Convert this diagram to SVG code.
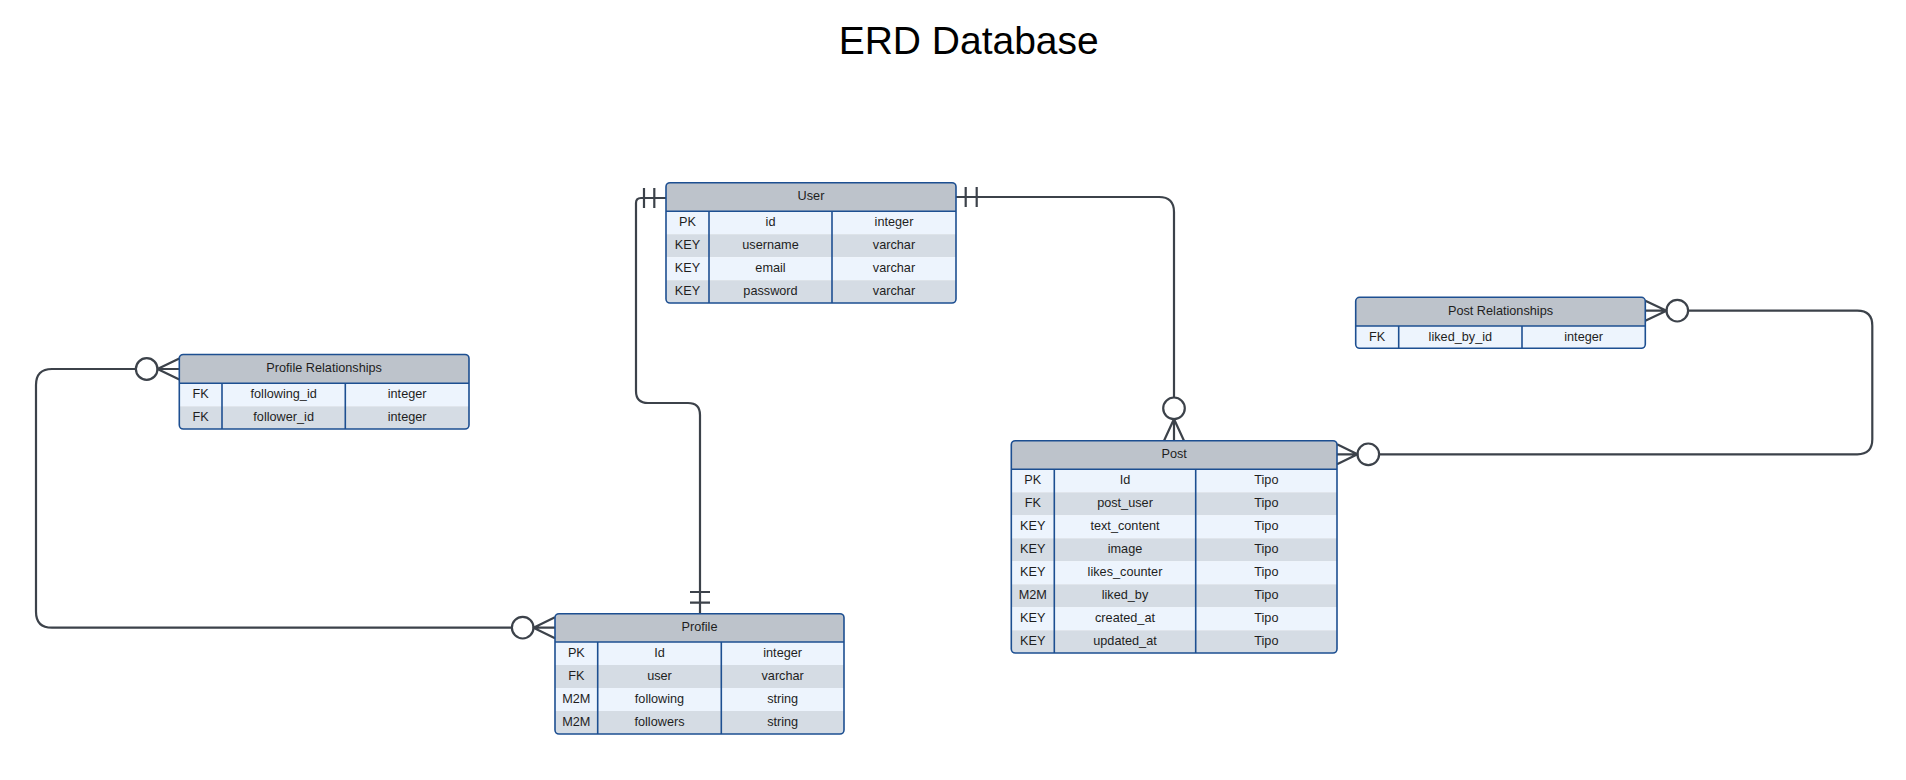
<svg xmlns="http://www.w3.org/2000/svg" width="1906" height="780" viewBox="0 0 1906 780">
<style>
text{font-family:"Liberation Sans",Arial,sans-serif;font-size:12.7px;fill:#1e1e1e;text-anchor:middle}
.title{font-size:39px;fill:#000}
.hd{fill:#BDC3CB}
.lt{fill:#EDF4FD}
.dk{fill:#D5DCE4}
.bd{fill:none;stroke:#1D4F91;stroke-width:1.6}
.sep{stroke:#1D4F91;stroke-width:1.6}
.ln{fill:none;stroke:#3C424A;stroke-width:2.2;stroke-linejoin:round}
.cir{fill:#fff;stroke:#3C424A;stroke-width:2.2}
</style>
<defs>
<clipPath id="cUser"><rect x="666" y="182.7" width="290" height="120.3" rx="4"/></clipPath>
<clipPath id="cProfRel"><rect x="179.3" y="354.5" width="289.7" height="74.5" rx="4"/></clipPath>
<clipPath id="cProfile"><rect x="555" y="613.7" width="289" height="120.3" rx="4"/></clipPath>
<clipPath id="cPost"><rect x="1011.3" y="440.7" width="325.7" height="212.3" rx="4"/></clipPath>
<clipPath id="cPostRel"><rect x="1355.7" y="297.3" width="289.6" height="51" rx="4"/></clipPath>
</defs>
<rect width="1906" height="780" fill="#fff"/>
<text class="title" x="968.7" y="54">ERD Database</text>

<g id="connectors">
<path class="ln" d="M666,198 H641 Q636,198 636,203 V391 Q636,403 648,403 H688 Q700,403 700,415 V613.7"/>
<path class="ln" d="M644,188 V208 M654.3,188 V208"/>
<path class="ln" d="M690,592 H710 M690,602.7 H710"/>
<path class="ln" d="M956,197 H1159 Q1174,197 1174,212 V397.5"/>
<path class="ln" d="M965.7,187 V207 M976.7,187 V207"/>
<circle class="cir" cx="1174" cy="408.3" r="10.8"/>
<path class="ln" d="M1164,440.7 L1174,419 L1184,440.7 M1174,419 V440.7"/>
<path class="ln" d="M135.9,369 H52 Q36,369 36,385 V611.7 Q36,627.7 52,627.7 H511.9"/>
<circle class="cir" cx="146.7" cy="369" r="10.8"/>
<path class="ln" d="M179.3,358.5 L157.5,369 L179.3,379.5 M157.5,369 H179.3"/>
<circle class="cir" cx="522.7" cy="627.7" r="10.8"/>
<path class="ln" d="M555,617.2 L533.5,627.7 L555,638.2 M533.5,627.7 H555"/>
<path class="ln" d="M1688.1,310.7 H1857.3 Q1872.3,310.7 1872.3,325.7 V439.3 Q1872.3,454.3 1857.3,454.3 H1379.1"/>
<circle class="cir" cx="1677.3" cy="310.7" r="10.8"/>
<path class="ln" d="M1645.3,300.7 L1666.5,310.7 L1645.3,320.7 M1666.5,310.7 H1645.3"/>
<circle class="cir" cx="1368.3" cy="454.3" r="10.8"/>
<path class="ln" d="M1337,444.3 L1357.5,454.3 L1337,464.3 M1357.5,454.3 H1337"/>
</g>

<g id="user">
<g clip-path="url(#cUser)">
<rect class="hd" x="666" y="182.7" width="290" height="28.5"/>
<rect class="lt" x="666" y="211.2" width="290" height="23"/>
<rect class="dk" x="666" y="234.2" width="290" height="23"/>
<rect class="lt" x="666" y="257.2" width="290" height="23"/>
<rect class="dk" x="666" y="280.2" width="290" height="23"/>
</g>
<line class="sep" x1="666" y1="211.2" x2="956" y2="211.2"/>
<line class="sep" x1="709" y1="211.2" x2="709" y2="303"/>
<line class="sep" x1="832" y1="211.2" x2="832" y2="303"/>
<rect class="bd" x="666" y="182.7" width="290" height="120.3" rx="4"/>
<text x="811" y="200.3">User</text>
<text x="687.5" y="226.2">PK</text><text x="770.5" y="226.2">id</text><text x="894" y="226.2">integer</text>
<text x="687.5" y="249.2">KEY</text><text x="770.5" y="249.2">username</text><text x="894" y="249.2">varchar</text>
<text x="687.5" y="272.2">KEY</text><text x="770.5" y="272.2">email</text><text x="894" y="272.2">varchar</text>
<text x="687.5" y="295.2">KEY</text><text x="770.5" y="295.2">password</text><text x="894" y="295.2">varchar</text>
</g>

<g id="profile-relationships">
<g clip-path="url(#cProfRel)">
<rect class="hd" x="179.3" y="354.5" width="289.7" height="28.8"/>
<rect class="lt" x="179.3" y="383.3" width="289.7" height="23"/>
<rect class="dk" x="179.3" y="406.3" width="289.7" height="23"/>
</g>
<line class="sep" x1="179.3" y1="383.3" x2="469" y2="383.3"/>
<line class="sep" x1="222" y1="383.3" x2="222" y2="429"/>
<line class="sep" x1="345.3" y1="383.3" x2="345.3" y2="429"/>
<rect class="bd" x="179.3" y="354.5" width="289.7" height="74.5" rx="4"/>
<text x="324.15" y="372.3">Profile Relationships</text>
<text x="200.65" y="398.3">FK</text><text x="283.65" y="398.3">following_id</text><text x="407.15" y="398.3">integer</text>
<text x="200.65" y="421.3">FK</text><text x="283.65" y="421.3">follower_id</text><text x="407.15" y="421.3">integer</text>
</g>

<g id="profile">
<g clip-path="url(#cProfile)">
<rect class="hd" x="555" y="613.7" width="289" height="28.3"/>
<rect class="lt" x="555" y="642" width="289" height="23"/>
<rect class="dk" x="555" y="665" width="289" height="23"/>
<rect class="lt" x="555" y="688" width="289" height="23"/>
<rect class="dk" x="555" y="711" width="289" height="23"/>
</g>
<line class="sep" x1="555" y1="642" x2="844" y2="642"/>
<line class="sep" x1="597.7" y1="642" x2="597.7" y2="734"/>
<line class="sep" x1="721.3" y1="642" x2="721.3" y2="734"/>
<rect class="bd" x="555" y="613.7" width="289" height="120.3" rx="4"/>
<text x="699.5" y="631.2">Profile</text>
<text x="576.35" y="657">PK</text><text x="659.5" y="657">Id</text><text x="782.65" y="657">integer</text>
<text x="576.35" y="680">FK</text><text x="659.5" y="680">user</text><text x="782.65" y="680">varchar</text>
<text x="576.35" y="703">M2M</text><text x="659.5" y="703">following</text><text x="782.65" y="703">string</text>
<text x="576.35" y="726">M2M</text><text x="659.5" y="726">followers</text><text x="782.65" y="726">string</text>
</g>

<g id="post">
<g clip-path="url(#cPost)">
<rect class="hd" x="1011.3" y="440.7" width="325.7" height="28.6"/>
<rect class="lt" x="1011.3" y="469.3" width="325.7" height="23"/>
<rect class="dk" x="1011.3" y="492.3" width="325.7" height="23"/>
<rect class="lt" x="1011.3" y="515.3" width="325.7" height="23"/>
<rect class="dk" x="1011.3" y="538.3" width="325.7" height="23"/>
<rect class="lt" x="1011.3" y="561.3" width="325.7" height="23"/>
<rect class="dk" x="1011.3" y="584.3" width="325.7" height="23"/>
<rect class="lt" x="1011.3" y="607.3" width="325.7" height="23"/>
<rect class="dk" x="1011.3" y="630.3" width="325.7" height="23"/>
</g>
<line class="sep" x1="1011.3" y1="469.3" x2="1337" y2="469.3"/>
<line class="sep" x1="1054.3" y1="469.3" x2="1054.3" y2="653"/>
<line class="sep" x1="1195.7" y1="469.3" x2="1195.7" y2="653"/>
<rect class="bd" x="1011.3" y="440.7" width="325.7" height="212.3" rx="4"/>
<text x="1174.15" y="458.4">Post</text>
<text x="1032.8" y="484.3">PK</text><text x="1125" y="484.3">Id</text><text x="1266.35" y="484.3">Tipo</text>
<text x="1032.8" y="507.3">FK</text><text x="1125" y="507.3">post_user</text><text x="1266.35" y="507.3">Tipo</text>
<text x="1032.8" y="530.3">KEY</text><text x="1125" y="530.3">text_content</text><text x="1266.35" y="530.3">Tipo</text>
<text x="1032.8" y="553.3">KEY</text><text x="1125" y="553.3">image</text><text x="1266.35" y="553.3">Tipo</text>
<text x="1032.8" y="576.3">KEY</text><text x="1125" y="576.3">likes_counter</text><text x="1266.35" y="576.3">Tipo</text>
<text x="1032.8" y="599.3">M2M</text><text x="1125" y="599.3">liked_by</text><text x="1266.35" y="599.3">Tipo</text>
<text x="1032.8" y="622.3">KEY</text><text x="1125" y="622.3">created_at</text><text x="1266.35" y="622.3">Tipo</text>
<text x="1032.8" y="645.3">KEY</text><text x="1125" y="645.3">updated_at</text><text x="1266.35" y="645.3">Tipo</text>
</g>

<g id="post-relationships">
<g clip-path="url(#cPostRel)">
<rect class="hd" x="1355.7" y="297.3" width="289.6" height="28.7"/>
<rect class="lt" x="1355.7" y="326" width="289.6" height="23"/>
</g>
<line class="sep" x1="1355.7" y1="326" x2="1645.3" y2="326"/>
<line class="sep" x1="1398.7" y1="326" x2="1398.7" y2="348.3"/>
<line class="sep" x1="1522" y1="326" x2="1522" y2="348.3"/>
<rect class="bd" x="1355.7" y="297.3" width="289.6" height="51" rx="4"/>
<text x="1500.5" y="314.9">Post Relationships</text>
<text x="1377.2" y="340.7">FK</text><text x="1460.35" y="340.7">liked_by_id</text><text x="1583.65" y="340.7">integer</text>
</g>
</svg>
